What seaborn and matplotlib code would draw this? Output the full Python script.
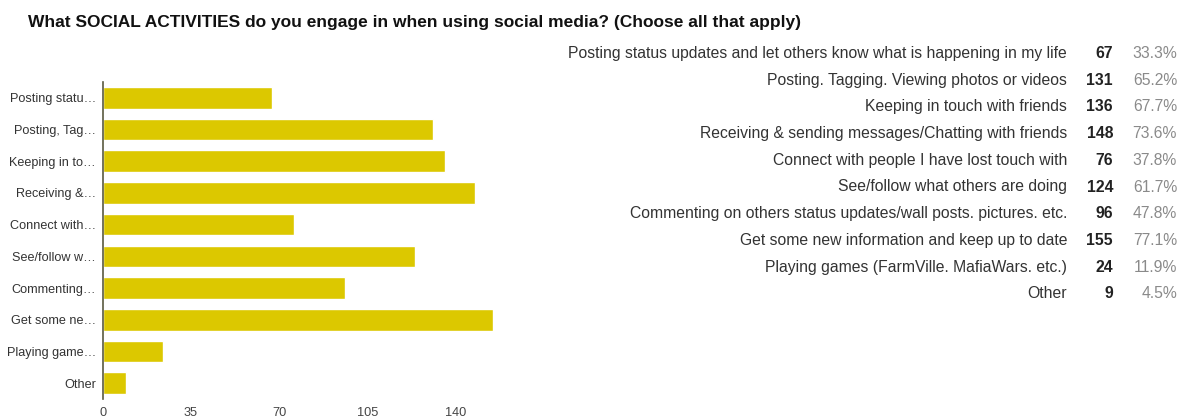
import matplotlib
matplotlib.use("Agg")
import matplotlib.pyplot as plt
import seaborn as sns
import pandas as pd

title = "What SOCIAL ACTIVITIES do you engage in when using social media? (Choose all that apply)"
categories = [
    "Posting status updates and let others know what is happening in my life",
    "Posting. Tagging. Viewing photos or videos",
    "Keeping in touch with friends",
    "Receiving & sending messages/Chatting with friends",
    "Connect with people I have lost touch with",
    "See/follow what others are doing",
    "Commenting on others status updates/wall posts. pictures. etc.",
    "Get some new information and keep up to date",
    "Playing games (FarmVille. MafiaWars. etc.)",
    "Other",
]
short_labels = [
    "Posting statu\u2026", "Posting, Tag\u2026", "Keeping in to\u2026", "Receiving &\u2026",
    "Connect with\u2026", "See/follow w\u2026", "Commenting\u2026", "Get some ne\u2026",
    "Playing game\u2026", "Other",
]
counts = [67, 131, 136, 148, 76, 124, 96, 155, 24, 9]
percents = ["33.3%", "65.2%", "67.7%", "73.6%", "37.8%", "61.7%", "47.8%", "77.1%", "11.9%", "4.5%"]
x_ticks = [0, 35, 70, 105, 140]

sns.set_theme(style="white")
plt.rcParams['font.family'] = ['Liberation Sans', 'DejaVu Sans']

W, H = 1186, 417
fig = plt.figure(figsize=(W / 100, H / 100), dpi=100)
ax = fig.add_axes([103 / W, (H - 399) / H, 390 / W, 317 / H])

df = pd.DataFrame({"label": short_labels, "count": counts})
sns.barplot(data=df, x="count", y="label", ax=ax, color="#DCC800", saturation=1,
            width=0.68, orient="h")
ax.set_xlim(0, 155)
ax.set_xticks(x_ticks)
ax.set_xticklabels([str(t) for t in x_ticks], fontsize=9.2, color="#444444")
ax.tick_params(axis="x", length=0, pad=6)
ax.tick_params(axis="y", length=0, pad=5, labelsize=9.1, labelcolor="#333333")
ax.set_xlabel("")
ax.set_ylabel("")
for s in ["top", "right", "bottom"]:
    ax.spines[s].set_visible(False)
ax.spines["left"].set_color("#5a5a40")
ax.spines["left"].set_linewidth(1.2)

fig.text(28 / W, 1 - 27.5 / H, title, fontsize=12.5, fontweight="bold", color="#111111",
         va="baseline", ha="left")

y0, dy = 58, 26.7
for i, (c, n, p) in enumerate(zip(categories, counts, percents)):
    y = 1 - (y0 + i * dy) / H
    fig.text(1067 / W, y, c, ha="right", va="baseline", fontsize=11.3, color="#333333")
    fig.text(1113 / W, y, str(n), ha="right", va="baseline", fontsize=11.3,
             fontweight="bold", color="#222222")
    fig.text(1177 / W, y, p, ha="right", va="baseline", fontsize=11.3, color="#8a8a8a")

fig.savefig("out.png", dpi=100)
